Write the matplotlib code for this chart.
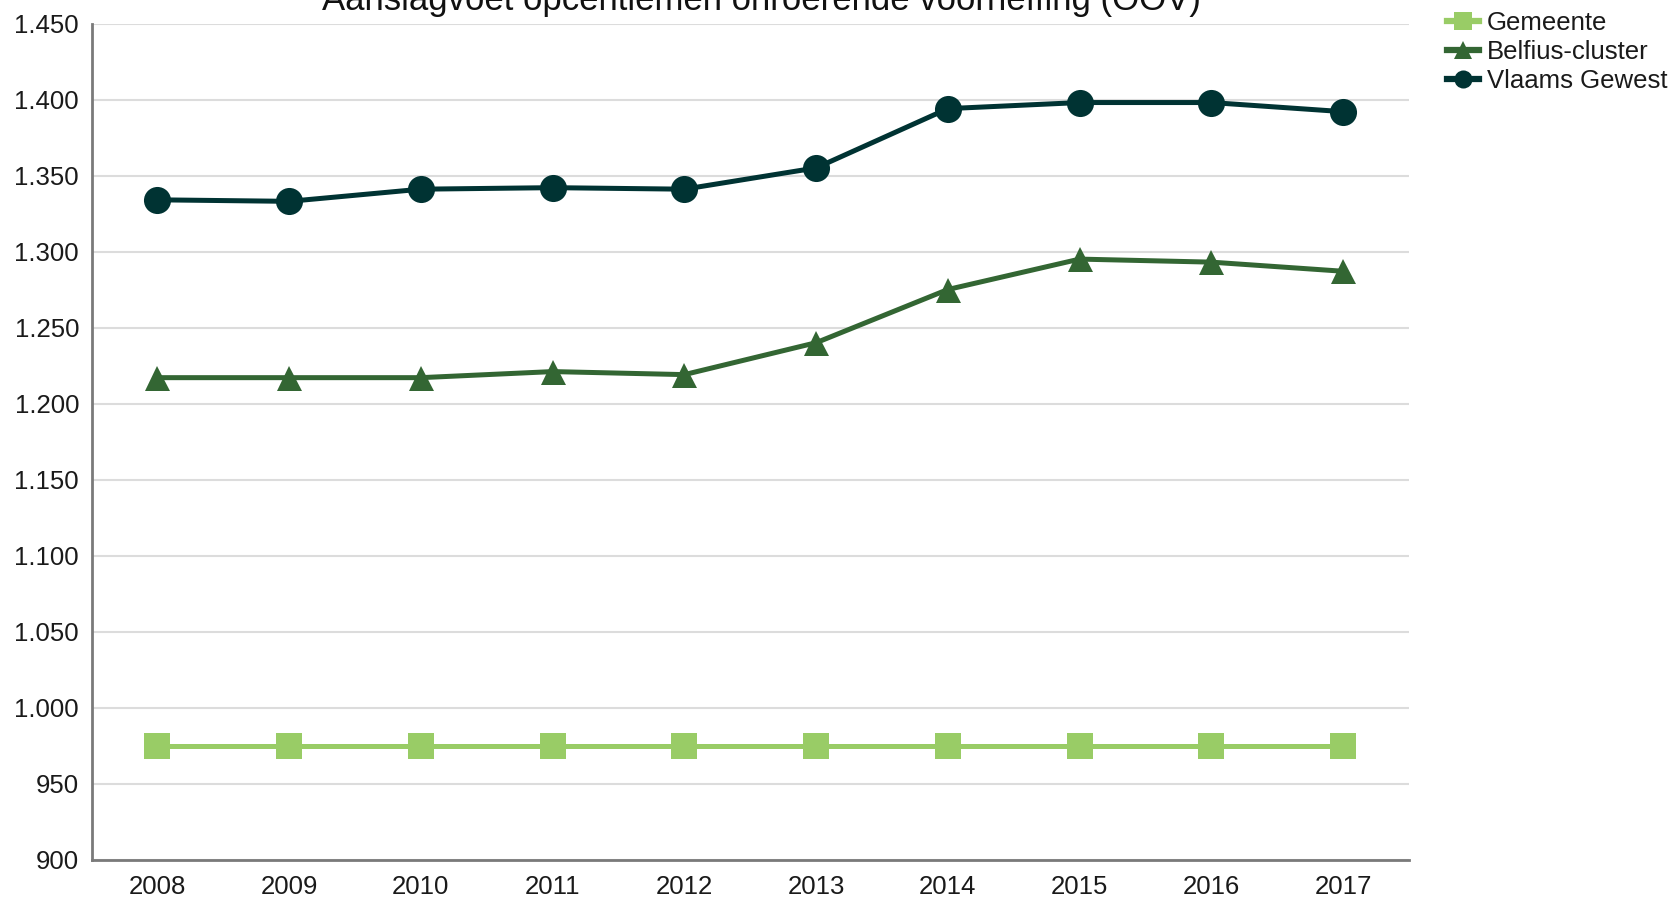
import matplotlib
matplotlib.use("Agg")
import matplotlib.pyplot as plt
from matplotlib.ticker import FuncFormatter, FixedLocator

plt.rcParams['font.family'] = ['Liberation Sans', 'DejaVu Sans']

title = "Aanslagvoet opcentiemen onroerende voorheffing (OOV)"
years = ["2008", "2009", "2010", "2011", "2012", "2013", "2014", "2015", "2016", "2017"]
gemeente = [975, 975, 975, 975, 975, 975, 975, 975, 975, 975]
belfius = [1217, 1217, 1217, 1221, 1219, 1240, 1275, 1295, 1293, 1287]
vlaams = [1334, 1333, 1341, 1342, 1341, 1355, 1394, 1398, 1398, 1392]
yticks = [900, 950, 1000, 1050, 1100, 1150, 1200, 1250, 1300, 1350, 1400, 1450]

W, H = 1669, 899
fig = plt.figure(figsize=(W / 100, H / 100), dpi=100)
ax = fig.add_axes([91.5 / W, 1 - 859.5 / H, (1409 - 91.5) / W, (859.5 - 23.5) / H])

x = list(range(len(years)))
series = [
    ("Gemeente", gemeente, "#99cc66", "s", 19.4),
    ("Belfius-cluster", belfius, "#336633", "^", 18),
    ("Vlaams Gewest", vlaams, "#003333", "o", 19.5),
]
for name, vals, col, mk, ms in series:
    ax.plot(x, vals, color=col, linewidth=3.6, marker=mk, markersize=ms,
            markeredgewidth=0, label=name, zorder=3, clip_on=False)

ax.set_xlim(-0.5, len(years) - 0.5)
ax.set_ylim(yticks[0], yticks[-1])
ax.set_xticks(x)
ax.set_xticklabels(years)
ax.yaxis.set_major_locator(FixedLocator(yticks))
ax.yaxis.set_major_formatter(FuncFormatter(lambda v, p: f"{int(v):,}".replace(",", ".")))
ax.grid(axis="y", color="#dcdcdc", linewidth=1.5, zorder=0)
ax.set_axisbelow(True)
for s in ["top", "right"]:
    ax.spines[s].set_visible(False)
for s in ["left", "bottom"]:
    ax.spines[s].set_color("#7a7a7a")
    ax.spines[s].set_linewidth(2)
ax.tick_params(axis="both", length=0, labelsize=18.5, colors="#1a1a1a")
ax.tick_params(axis="y", pad=9)
ax.tick_params(axis="x", pad=11)

fig.text(761.5 / W, 1 - 10 / H, title, ha="center", va="baseline", fontsize=25, color="#111111")

leg_handles = []
for name, vals, col, mk, ms in series:
    h, = ax.plot([], [], color=col, linewidth=4.5, marker=mk, markersize=13, markeredgewidth=0)
    leg_handles.append(h)
fig.legend(leg_handles, [s[0] for s in series], loc="upper left",
           bbox_to_anchor=(1447 / W, 1 - 11 / H), frameon=False, fontsize=18.5,
           handlelength=1.25, handletextpad=0.3, labelspacing=0.2,
           borderpad=0, borderaxespad=0, labelcolor="#1a1a1a")

fig.savefig("out.png", dpi=100)
